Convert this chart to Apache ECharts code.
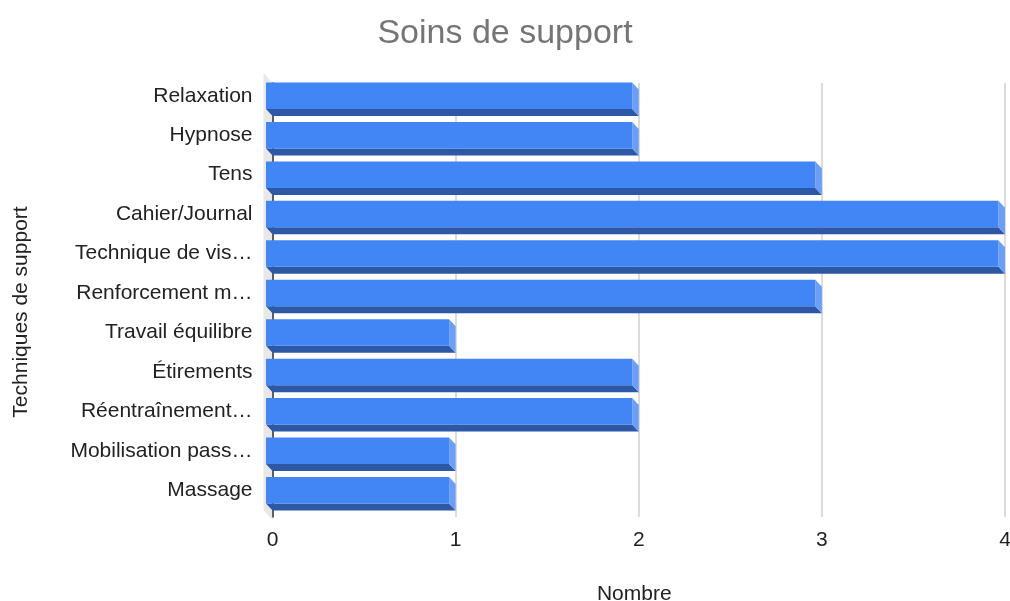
<!DOCTYPE html>
<html><head><meta charset="utf-8">
<script src="https://cdn.jsdelivr.net/npm/echarts@6/dist/echarts.min.js"></script>
<style>html,body{margin:0;padding:0;background:#fff}#c{width:1010px;height:601px}</style>
</head><body><div id="c"></div>
<script>
const categories = ['Relaxation','Hypnose','Tens','Cahier/Journal','Technique de vis…','Renforcement m…','Travail équilibre','Étirements','Réentraînement…','Mobilisation pass…','Massage'];
const values = [2,2,3,4,4,3,1,2,2,1,1];
const xMin = 0, xMax = 4, xStep = 1;

const DX = 6.5, DY = 7, H = 26.5;
const FONT = 'Liberation Sans, Arial, Helvetica, sans-serif';

function renderBar(params, api){
  const v = api.value(0), c = api.value(1);
  const p0 = api.coord([0, c]), p1 = api.coord([v, c]);
  const xl = p0[0] - DX, xr = p1[0] - DX;
  const fc = p0[1] - DY, yt = fc - H/2, yb = fc + H/2;
  return {type:'group', children:[
    {type:'polygon', shape:{points:[[xl,yb],[xr,yb],[xr+DX,yb+DY],[xl+DX,yb+DY]]}, style:{fill:'#2c58a6'}},
    {type:'polygon', shape:{points:[[xr,yt],[xr+DX,yt+DY],[xr+DX,yb+DY],[xr,yb]]}, style:{fill:'#6b9ff7'}},
    {type:'rect', shape:{x:xl, y:yt, width:xr-xl, height:H}, style:{fill:'#4285f4'}}
  ]};
}
function renderWall(params, api){
  const cs = params.coordSys;
  const x = cs.x, y = cs.y, h = cs.height;
  return {type:'polygon', shape:{points:[[x-9,y-10],[x,y],[x,y+h+3],[x-9,y+h-7]]}, style:{fill:'#e8e8e8'}};
}

const chart = echarts.init(document.getElementById('c'), null, {renderer:'canvas'});
chart.setOption({
  animation:false,
  backgroundColor:'#fff',
  title:{text:'Soins de support', left:'center', top:12, textStyle:{fontFamily:FONT, fontSize:34, fontWeight:'normal', color:'#757575'}},
  grid:{left:272.5, right:5, top:83, bottom:84, containLabel:false, outerBoundsMode:'none'},
  xAxis:{type:'value', min:xMin, max:xMax, interval:xStep,
    name:'Nombre', nameLocation:'middle', nameGap:67,
    nameTextStyle:{fontFamily:FONT, fontSize:21, color:'#222', padding:[0,9,0,0]},
    axisLine:{show:false}, axisTick:{show:false},
    axisLabel:{fontFamily:FONT, fontSize:21, color:'#222', margin:13},
    splitLine:{show:true, lineStyle:{color:'#d0d0d0', width:1.5}}},
  yAxis:{type:'category', data:categories, inverse:true, z:1,
    name:'Techniques de support', nameLocation:'middle', nameGap:241, nameRotate:90,
    nameTextStyle:{fontFamily:FONT, fontSize:21, color:'#222', padding:[0,24,0,0]},
    axisLine:{show:true, lineStyle:{color:'#333', width:1.5}}, axisTick:{show:false},
    axisLabel:{fontFamily:FONT, fontSize:21, color:'#222', margin:20, verticalAlign:'bottom', lineHeight:14},
    splitLine:{show:false}},
  series:[
    {type:'custom', z:0, silent:true, renderItem:renderWall, data:[[0,0]], encode:{x:0,y:1}},
    {type:'custom', z:3, renderItem:renderBar, data:values.map((v,i)=>[v,i]), encode:{x:0,y:1}}
  ]
});
</script></body></html>
